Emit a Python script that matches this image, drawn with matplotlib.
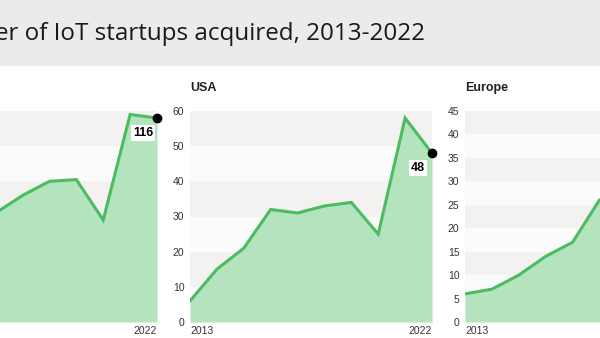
import matplotlib.pyplot as plt
from matplotlib.patches import Rectangle

years = list(range(2013, 2023))
world = [14, 28, 45, 62, 72, 80, 81, 58, 118, 116]
usa = [6, 15, 21, 32, 31, 33, 34, 25, 58, 48]
europe = [6, 7, 10, 14, 17, 26, 29, 22, 40, 36]

panel_titles = [None, "USA", "Europe"]
panel_data = [world, usa, europe]
y_max = [120, 60, 45]
y_step = [20, 10, 5]

title = "Number of IoT startups acquired, 2013-2022"

line_col = "#4cbb62"
fill_col = "#b4e4be"
band_col = "#f4f2f1"
text_col = "#222222"

W, H = 600, 338
fig = plt.figure(figsize=(W / 100, H / 100), dpi=100)
fig.patch.set_facecolor("white")

# grey header strip
fig.patches.append(Rectangle((0, 1 - 66 / H), 1, 66 / H, transform=fig.transFigure,
                             facecolor="#ebebeb", edgecolor="none", zorder=0))
# the chart is cropped on the left, so the title runs off the edge like in the reference
fig.text(425 / W, 1 - 34 / H, title, ha="right", va="center", fontsize=17.4,
         family="Open Sans", color="#1a1a1a")

# plot areas in pixels: left edge, width, top, bottom
lefts = [-85, 190, 465]
pw = 242
top, bottom = 111, 322

for i, (name, vals) in enumerate(zip(panel_titles, panel_data)):
    ax = fig.add_axes([lefts[i] / W, 1 - bottom / H, pw / W, (bottom - top) / H])
    ax.set_facecolor("#fcfbfb")
    ticks = list(range(0, y_max[i] + 1, y_step[i]))
    # alternating bands, grey at the top
    n = len(ticks) - 1
    for k in range(n):
        if (n - 1 - k) % 2 == 0:
            ax.axhspan(ticks[k], ticks[k + 1], color=band_col, lw=0, zorder=0)
    ax.fill_between(years, vals, color=fill_col, lw=0, zorder=1)
    ax.plot(years, vals, color=line_col, lw=2.2, zorder=2, solid_joinstyle="miter")
    ax.set_xlim(years[0], years[-1])
    ax.set_ylim(0, y_max[i])
    ax.set_yticks(ticks)
    # only the labels that fall inside the picture
    if i == 0:
        ax.set_xticks([years[-1]])
        ax.set_xticklabels([str(years[-1])], ha="right")
        ax.tick_params(axis="y", labelleft=False)
    elif i == 1:
        ax.set_xticks([years[0], years[-1]])
        ax.set_xticklabels([str(years[0]), str(years[-1])])
        labs = ax.get_xticklabels()
        labs[0].set_ha("left")
        labs[1].set_ha("right")
    else:
        ax.set_xticks([years[0]])
        ax.set_xticklabels([str(years[0])], ha="left")
    ax.tick_params(length=0, labelsize=7.5, colors="#333333", pad=3)
    ax.tick_params(axis="y", pad=4)
    for lab in ax.get_xticklabels() + ax.get_yticklabels():
        lab.set_family("Liberation Sans")
    for s in ax.spines.values():
        s.set_visible(False)
    if name:
        ax.text(0, 1 + 23 / (bottom - top), name, transform=ax.transAxes, ha="left",
                va="center", fontsize=9, fontweight="bold", family="Liberation Sans",
                color=text_col)
    if i < 2:
        ax.plot(years[-1], vals[-1], "o", color="black", ms=6, zorder=5, clip_on=False)
        ax.annotate(str(vals[-1]), (years[-1], vals[-1]), xytext=(-14, -15),
                    textcoords="offset pixels", ha="center", va="center",
                    fontsize=9, fontweight="bold", family="Liberation Sans",
                    color="black", zorder=6,
                    bbox=dict(boxstyle="square,pad=0.15", fc="white", ec="none"))

fig.savefig("out.png", dpi=100)
